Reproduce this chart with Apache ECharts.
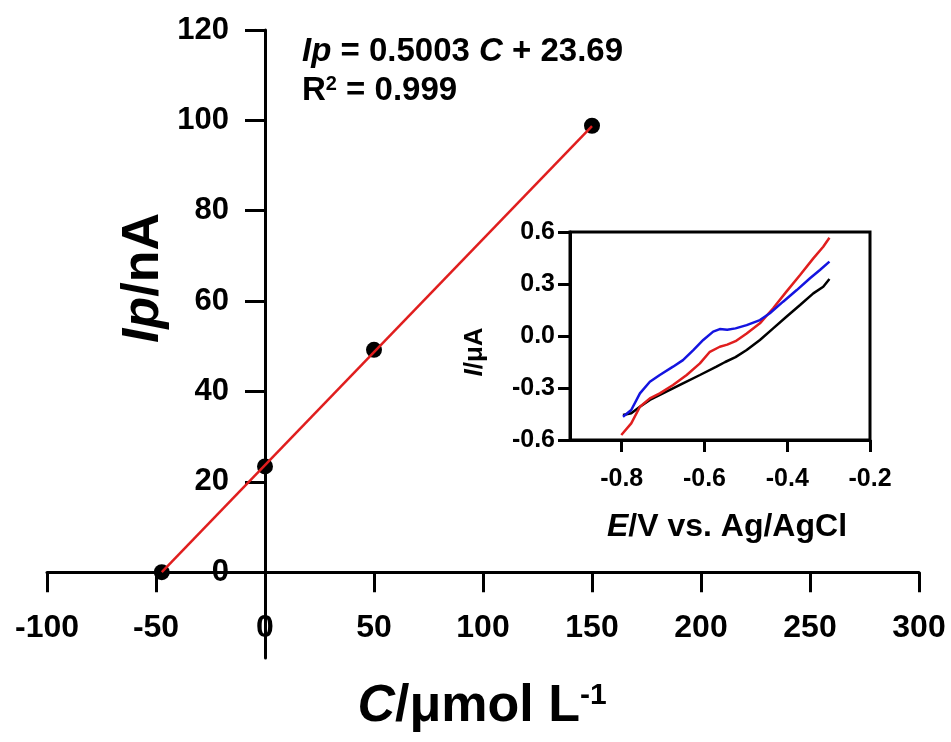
<!DOCTYPE html>
<html>
<head>
<meta charset="utf-8">
<title>Ip vs C calibration</title>
<script src="https://cdn.jsdelivr.net/npm/echarts@6/dist/echarts.min.js"></script>
<style>
  html, body { margin: 0; padding: 0; background: #fff; }
  #chart { width: 951px; height: 742px; }
</style>
</head>
<body>
<div id="chart"></div>
<script>
// main plot: standard addition points
const concX = [-47.35, 0, 50, 150];
const peakIp = [0, 23.4, 49.2, 98.8];
// fitted line end points (Ip = 0.5003 C + 23.69)
const fitX = [-47.35, 150];
const fitY = [0, 98.7];
const mainXTicks = [-100, -50, 0, 50, 100, 150, 200, 250, 300];
const mainYTicks = [0, 20, 40, 60, 80, 100, 120];

// inset: voltammograms
const blackE = [-0.797, -0.777, -0.756, -0.732, -0.692, -0.652, -0.611, -0.571, -0.55, -0.525, -0.498, -0.466, -0.434, -0.402, -0.369, -0.337, -0.313, -0.298];
const blackI = [-0.456, -0.446, -0.408, -0.369, -0.321, -0.273, -0.225, -0.177, -0.150, -0.122, -0.081, -0.023, 0.044, 0.111, 0.179, 0.246, 0.284, 0.329];
const redE = [-0.801, -0.777, -0.756, -0.732, -0.708, -0.676, -0.643, -0.611, -0.587, -0.563, -0.545, -0.525, -0.498, -0.466, -0.434, -0.402, -0.369, -0.337, -0.313, -0.298];
const redI = [-0.571, -0.504, -0.408, -0.360, -0.331, -0.283, -0.225, -0.158, -0.091, -0.062, -0.050, -0.030, 0.015, 0.073, 0.160, 0.256, 0.352, 0.448, 0.515, 0.567];
const blueE = [-0.797, -0.777, -0.756, -0.732, -0.708, -0.676, -0.652, -0.627, -0.603, -0.579, -0.563, -0.545, -0.525, -0.498, -0.466, -0.442, -0.410, -0.377, -0.345, -0.321, -0.298];
const blueI = [-0.466, -0.427, -0.331, -0.264, -0.225, -0.177, -0.139, -0.081, -0.023, 0.025, 0.040, 0.036, 0.044, 0.063, 0.092, 0.131, 0.198, 0.265, 0.333, 0.381, 0.429];
const insetXTicks = [-0.8, -0.6, -0.4, -0.2];

const FONT = 'Liberation Sans, Arial, Helvetica, sans-serif';

// main grid box and ranges
const W = 951, H = 742;
const mainGrid = { left: 47, right: 32, top: 30, bottom: 84 };
const X_MIN = -100, X_MAX = 300, Y_MIN = -19, Y_MAX = 120;

function pairs(xs, ys) {
    return xs.map((x, i) => [x, ys[i]]);
}

function oneDecimal(v) {
    return Math.abs(v) < 1e-9 ? '0.0' : v.toFixed(1);
}

// the axes cross at the origin: shift them from the grid edges to zero
const gridW = W - mainGrid.left - mainGrid.right;
const gridH = H - mainGrid.top - mainGrid.bottom;
const xAxisOffset = -(0 - Y_MIN) / (Y_MAX - Y_MIN) * gridH;
const yAxisOffset = -(0 - X_MIN) / (X_MAX - X_MIN) * gridW;

const chart = echarts.init(document.getElementById('chart'));

function titleText(x, y, text, size, supSize, rotation) {
    return {
        type: 'text',
        x: x,
        y: y,
        rotation: rotation || 0,
        silent: true,
        style: {
            text: text,
            textAlign: 'center',
            textVerticalAlign: 'middle',
            fontFamily: FONT,
            fontWeight: 'bold',
            fontSize: size,
            fill: '#000',
            rich: {
                i: { fontStyle: 'italic', fontWeight: 'bold', fontFamily: FONT, fontSize: size },
                sup: { fontWeight: 'bold', fontFamily: FONT, fontSize: supSize, verticalAlign: 'top' }
            }
        }
    };
}

const option = {
    backgroundColor: '#fff',
    animation: false,
    grid: [
        Object.assign({ outerBoundsMode: 'none', containLabel: false }, mainGrid),
        { left: 570, right: 81, top: 232, bottom: 302, outerBoundsMode: 'none', containLabel: false,
          show: true, borderColor: '#000', borderWidth: 3, backgroundColor: '#fff' }
    ],
    xAxis: [
        {
            type: 'value',
            gridIndex: 0,
            min: X_MIN,
            max: X_MAX,
            interval: 50,
            position: 'bottom',
            offset: xAxisOffset,
            axisLine: { onZero: false, lineStyle: { color: '#000', width: 3 } },
            axisTick: { length: 20, lineStyle: { color: '#000', width: 3 }, customValues: mainXTicks },
            axisLabel: { customValues: mainXTicks, fontSize: 32, fontWeight: 'bold', fontFamily: FONT, color: '#000', margin: 40 },
            splitLine: { show: false }
        },
        {
            type: 'value',
            gridIndex: 1,
            min: -0.925,
            max: -0.2,
            axisLine: { onZero: false, lineStyle: { color: '#000', width: 3 } },
            axisTick: { length: 12, lineStyle: { color: '#000', width: 3 }, customValues: insetXTicks },
            axisLabel: { customValues: insetXTicks, formatter: oneDecimal, fontSize: 25, fontWeight: 'bold', fontFamily: FONT, color: '#000', margin: 27 },
            splitLine: { show: false }
        }
    ],
    yAxis: [
        {
            type: 'value',
            gridIndex: 0,
            min: Y_MIN,
            max: Y_MAX,
            position: 'left',
            offset: yAxisOffset,
            axisLine: { onZero: false, lineStyle: { color: '#000', width: 3 } },
            axisTick: { length: 20, lineStyle: { color: '#000', width: 3 }, customValues: mainYTicks },
            axisLabel: { customValues: mainYTicks, fontSize: 31, fontWeight: 'bold', fontFamily: FONT, color: '#000', margin: 36 },
            splitLine: { show: false }
        },
        {
            type: 'value',
            gridIndex: 1,
            min: -0.6,
            max: 0.6,
            interval: 0.3,
            axisLine: { onZero: false, lineStyle: { color: '#000', width: 3 } },
            axisTick: { length: 12, lineStyle: { color: '#000', width: 3 } },
            axisLabel: { formatter: oneDecimal, fontSize: 25, fontWeight: 'bold', fontFamily: FONT, color: '#000', margin: 15 },
            splitLine: { show: false }
        }
    ],
    series: [
        {
            name: 'points',
            type: 'scatter',
            xAxisIndex: 0,
            yAxisIndex: 0,
            data: pairs(concX, peakIp),
            symbol: 'circle',
            symbolSize: 16,
            itemStyle: { color: '#000', opacity: 1 },
            z: 3
        },
        {
            name: 'fit',
            type: 'line',
            xAxisIndex: 0,
            yAxisIndex: 0,
            data: pairs(fitX, fitY),
            symbol: 'none',
            lineStyle: { color: '#e01e1e', width: 2.5 },
            z: 4
        },
        {
            name: 'black',
            type: 'line',
            xAxisIndex: 1,
            yAxisIndex: 1,
            data: pairs(blackE, blackI),
            symbol: 'none',
            lineStyle: { color: '#000', width: 2.5 },
            z: 5
        },
        {
            name: 'red',
            type: 'line',
            xAxisIndex: 1,
            yAxisIndex: 1,
            data: pairs(redE, redI),
            symbol: 'none',
            lineStyle: { color: '#e01e1e', width: 2.5 },
            z: 6
        },
        {
            name: 'blue',
            type: 'line',
            xAxisIndex: 1,
            yAxisIndex: 1,
            data: pairs(blueE, blueI),
            symbol: 'none',
            lineStyle: { color: '#1414e0', width: 2.5 },
            z: 7
        }
    ],
    graphic: [
        // regression equation
        {
            type: 'text',
            x: 302,
            y: 52,
            silent: true,
            style: {
                text: '{i|Ip} = 0.5003 {i|C} + 23.69',
                textAlign: 'left',
                textVerticalAlign: 'middle',
                fontFamily: FONT, fontWeight: 'bold', fontSize: 33, fill: '#000',
                rich: { i: { fontStyle: 'italic', fontWeight: 'bold', fontFamily: FONT, fontSize: 33 } }
            }
        },
        {
            type: 'text',
            x: 302,
            y: 91,
            silent: true,
            style: {
                text: 'R{sup|2} = 0.999',
                textAlign: 'left',
                textVerticalAlign: 'middle',
                fontFamily: FONT, fontWeight: 'bold', fontSize: 33, fill: '#000',
                rich: { sup: { fontWeight: 'bold', fontFamily: FONT, fontSize: 20, verticalAlign: 'top' } }
            }
        },
        titleText(144, 278, '{i|Ip}/nA', 52, 30, Math.PI / 2),
        titleText(482, 707, '{i|C}/μmol L{sup|-1}', 52, 30, 0),
        titleText(475, 352, '{i|I}/μA', 26, 16, Math.PI / 2),
        titleText(727, 527, '{i|E}/V vs. Ag/AgCl', 32, 18, 0)
    ]
};

chart.setOption(option);
</script>
</body>
</html>
